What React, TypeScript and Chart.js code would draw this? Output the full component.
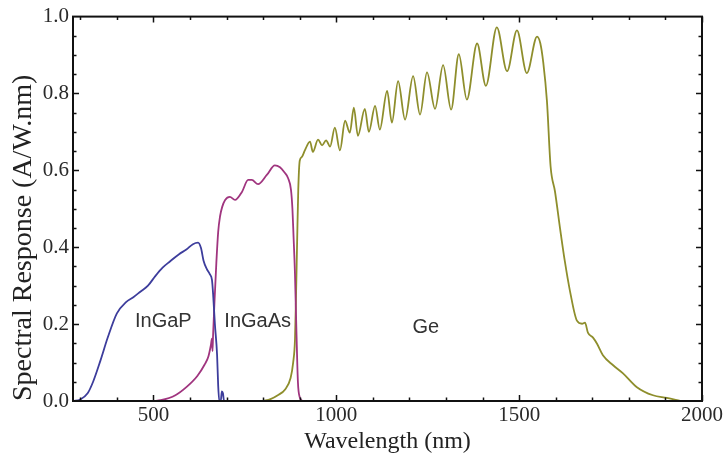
import React, { useEffect, useRef } from 'react';
import { Chart, registerables } from 'chart.js';

Chart.register(...registerables);

// ---- Data ----
const inGaPWavelength = [280, 300, 320, 335, 355, 375, 400, 425, 445, 465, 485, 505, 525, 545, 570, 590, 608, 622, 630, 637, 646, 654, 660, 663, 668, 674, 677, 680, 684, 687, 690, 693, 720];
const inGaPResponse = [0.0, 0.004, 0.02, 0.05, 0.105, 0.165, 0.228, 0.257, 0.27, 0.285, 0.3, 0.325, 0.347, 0.363, 0.382, 0.394, 0.408, 0.412, 0.398, 0.365, 0.343, 0.33, 0.315, 0.28, 0.2, 0.12, 0.04, 0.0, 0.0, 0.025, 0.02, 0.0, 0.0];

const inGaAsWavelength = [500, 520, 560, 590, 620, 640, 650, 657, 660, 661.5, 663, 667, 672, 677, 682, 688, 696, 709, 723, 742, 759, 769, 786, 810, 832, 846, 858, 868, 876, 880, 883, 887, 891, 895, 900, 908];
const inGaAsResponse = [0.0, 0.002, 0.015, 0.036, 0.065, 0.095, 0.115, 0.145, 0.162, 0.13, 0.17, 0.26, 0.36, 0.44, 0.48, 0.505, 0.523, 0.531, 0.523, 0.544, 0.575, 0.575, 0.564, 0.588, 0.613, 0.608, 0.595, 0.58, 0.55, 0.5, 0.43, 0.33, 0.18, 0.05, 0.01, 0.0];

const geWavelength = [800, 820, 840, 860, 875, 882, 887, 890, 893, 896, 900, 906, 914, 928, 936, 950, 961, 972, 983, 996, 1010, 1024, 1037, 1048, 1059, 1078, 1089, 1106, 1119, 1139, 1152, 1169, 1188, 1210, 1229, 1248, 1270, 1292, 1314, 1335, 1357, 1385, 1409, 1439, 1467, 1494, 1521, 1549, 1558, 1566, 1576, 1586, 1598, 1612, 1625, 1639, 1658, 1672, 1680, 1688, 1702, 1713, 1729, 1757, 1784, 1822, 1866, 1904, 1940];
const geResponse = [0.0, 0.005, 0.015, 0.03, 0.06, 0.1, 0.16, 0.28, 0.42, 0.55, 0.625, 0.635, 0.652, 0.675, 0.648, 0.68, 0.665, 0.678, 0.662, 0.711, 0.652, 0.729, 0.698, 0.763, 0.69, 0.76, 0.7, 0.768, 0.706, 0.807, 0.724, 0.832, 0.732, 0.845, 0.745, 0.855, 0.76, 0.874, 0.758, 0.902, 0.784, 0.93, 0.82, 0.972, 0.858, 0.964, 0.853, 0.948, 0.93, 0.88, 0.78, 0.61, 0.545, 0.448, 0.363, 0.286, 0.209, 0.201, 0.204, 0.178, 0.165, 0.149, 0.119, 0.093, 0.072, 0.036, 0.015, 0.008, 0.0];

const seriesNames = ['InGaP', 'InGaAs', 'Ge'];
const seriesColors = ['#3d3d9c', '#a0357f', '#8e8e2c'];
const labelWavelength = [527, 785, 1245];
const labelResponse = [0.193, 0.193, 0.178];

const xTickValues = [500, 1000, 1500, 2000];
const yTickValues = [0, 0.2, 0.4, 0.6, 0.8, 1.0];
const xMin = 280;
const xMax = 2000;

const toPoints = (xs: number[], ys: number[]) => xs.map((x, i) => ({ x, y: ys[i] }));

const framePlugin = {
  id: 'frameTicks',
  afterDraw(chart: any) {
    const { ctx, chartArea: a, scales } = chart;
    const x = scales.x;
    const y = scales.y;
    ctx.save();
    ctx.strokeStyle = '#111';
    ctx.lineWidth = 1.5;
    ctx.beginPath();
    for (let v = 300; v <= 2000; v += 100) {
      const px = Math.round(x.getPixelForValue(v)) + 0.5;
      const len = v % 500 === 0 ? 6 : 3.5;
      ctx.moveTo(px, a.bottom);
      ctx.lineTo(px, a.bottom - len);
      ctx.moveTo(px, a.top);
      ctx.lineTo(px, a.top + len);
    }
    for (let i = 1; i < 20; i++) {
      const v = i * 0.05;
      const py = Math.round(y.getPixelForValue(v)) + 0.5;
      const len = i % 4 === 0 ? 6 : 3.5;
      ctx.moveTo(a.left, py);
      ctx.lineTo(a.left + len, py);
      ctx.moveTo(a.right, py);
      ctx.lineTo(a.right - len, py);
    }
    ctx.stroke();
    ctx.lineWidth = 2;
    ctx.strokeStyle = '#111';
    ctx.strokeRect(a.left, a.top, a.right - a.left, a.bottom - a.top);

    ctx.fillStyle = '#333';
    ctx.font = '20px "Liberation Sans", Arial, sans-serif';
    ctx.textAlign = 'center';
    ctx.textBaseline = 'alphabetic';
    seriesNames.forEach((name, i) => {
      ctx.fillText(name, x.getPixelForValue(labelWavelength[i]), y.getPixelForValue(labelResponse[i]));
    });
    ctx.restore();
  },
};

export default function App() {
  const canvasRef = useRef<HTMLCanvasElement | null>(null);

  useEffect(() => {
    const canvas = canvasRef.current;
    if (!canvas) return;
    const serif = '"Liberation Serif", "Times New Roman", serif';
    const chart = new Chart(canvas, {
      type: 'line',
      data: {
        datasets: [
          { label: seriesNames[0], data: toPoints(inGaPWavelength, inGaPResponse), borderColor: seriesColors[0] },
          { label: seriesNames[1], data: toPoints(inGaAsWavelength, inGaAsResponse), borderColor: seriesColors[1] },
          { label: seriesNames[2], data: toPoints(geWavelength, geResponse), borderColor: seriesColors[2] },
        ].map((d) => ({
          ...d,
          borderWidth: 1.8,
          pointRadius: 0,
          fill: false,
          cubicInterpolationMode: 'monotone' as const,
        })),
      },
      options: {
        animation: false,
        responsive: false,
        maintainAspectRatio: false,
        layout: { padding: { top: 13, right: 24, left: 0, bottom: 0 } },
        plugins: { legend: { display: false }, tooltip: { enabled: false } },
        scales: {
          x: {
            type: 'linear',
            min: xMin,
            max: xMax,
            afterBuildTicks: (s: any) => {
              s.ticks = xTickValues.map((value) => ({ value }));
            },
            afterFit: (s: any) => {
              s.height = 61;
            },
            ticks: {
              color: '#2a2a2a',
              font: { family: serif, size: 21 },
              padding: 2,
              maxRotation: 0,
              autoSkip: false,
              callback: (v: any) => String(v),
            },
            grid: { display: false, drawTicks: false },
            border: { display: false },
            title: {
              display: true,
              text: 'Wavelength (nm)',
              color: '#222',
              font: { family: serif, size: 24 },
              padding: { top: 0, bottom: 6 },
            },
          },
          y: {
            type: 'linear',
            min: 0,
            max: 1,
            afterBuildTicks: (s: any) => {
              s.ticks = yTickValues.map((value) => ({ value }));
            },
            afterFit: (s: any) => {
              s.width = 73;
            },
            ticks: {
              color: '#2a2a2a',
              font: { family: serif, size: 21 },
              padding: 4,
              callback: (v: any) => Number(v).toFixed(1),
            },
            grid: { display: false, drawTicks: false },
            border: { display: false },
            title: {
              display: true,
              text: 'Spectral Response (A/W.nm)',
              color: '#222',
              align: 'start',
              font: { family: serif, size: 28 },
              padding: { top: 7, bottom: 0 },
            },
          },
        },
      },
      plugins: [framePlugin],
    });
    return () => chart.destroy();
  }, []);

  return (
    <div style={{ position: 'fixed', left: 0, top: 0, width: 726, height: 462, background: '#fff' }}>
      <canvas ref={canvasRef} width={726} height={462} style={{ display: 'block' }} />
    </div>
  );
}
